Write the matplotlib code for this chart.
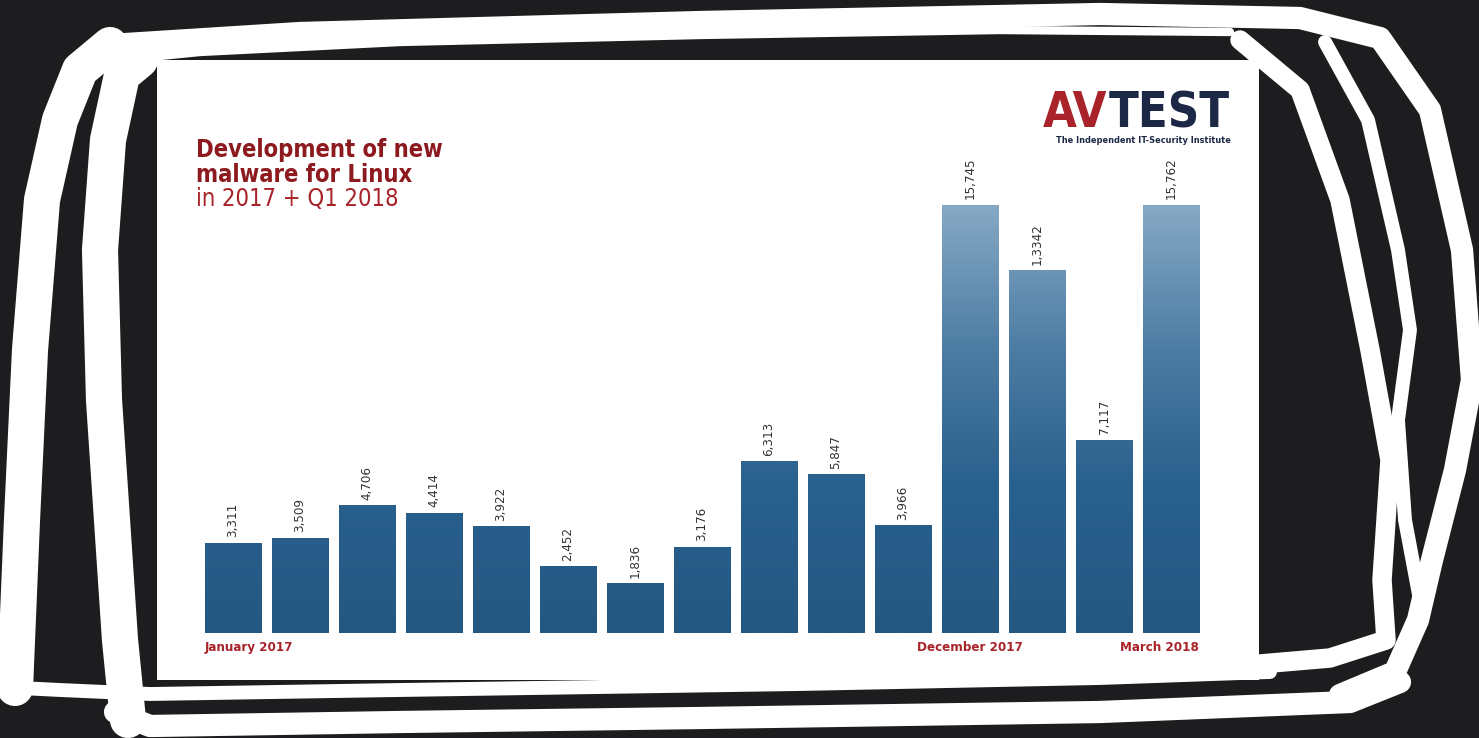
"""
    Development of new malware for Linux (AV-TEST), photo of a slide in a scribbled frame
"""
import matplotlib.pyplot as plt
import numpy as np
from matplotlib.colors import LinearSegmentedColormap
from matplotlib.patches import Rectangle

months = ["January 2017", "February 2017", "March 2017", "April 2017", "May 2017",
          "June 2017", "July 2017", "August 2017", "September 2017", "October 2017",
          "November 2017", "December 2017", "January 2018", "February 2018", "March 2018"]
values = [3311, 3509, 4706, 4414, 3922, 2452, 1836, 3176, 6313, 5847, 3966,
          15745, 13342, 7117, 15762]
value_labels = ["3,311", "3,509", "4,706", "4,414", "3,922", "2,452", "1,836", "3,176",
                "6,313", "5,847", "3,966", "15,745", "1,3342", "7,117", "15,762"]
shown_months = {0: "left", 11: "center", 14: "right"}

W, H, dpi = 1479, 738, 100
bg = "#1d1d1f"
red = "#a8232a"
dark_red = "#8c1a1f"
navy = "#1c2846"
cond = dict(family="DejaVu Sans", fontstretch="condensed")

fig = plt.figure(figsize=(W / dpi, H / dpi), dpi=dpi, facecolor=bg)

# overlay in pixel units for the card, frame and texts
deco = fig.add_axes([0, 0, 1, 1], zorder=0)
deco.set_xlim(0, W)
deco.set_ylim(H, 0)
deco.axis("off")
deco.set_facecolor(bg)
deco.add_patch(Rectangle((157, 60), 1102, 620, facecolor="white", edgecolor="none"))

# hand drawn frame strokes
strokes = [
    ([110, 300, 700, 1100, 1300, 1380, 1430, 1462, 1472, 1455, 1432, 1418, 1395, 1340],
     [45, 33, 22, 14, 18, 38, 110, 250, 380, 470, 560, 620, 672, 695], 16),
    ([1240, 1300, 1340, 1370, 1390, 1382, 1386, 1330, 1260],
     [40, 90, 200, 350, 460, 580, 640, 658, 664], 14),
    ([1325, 1368, 1398, 1410, 1398, 1405, 1420],
     [42, 120, 250, 330, 420, 520, 600], 10),
    ([1400, 1350, 1100, 700, 400, 150, 115],
     [682, 702, 712, 718, 722, 726, 712], 16),
    ([1270, 1100, 800, 400, 150, 60, 20],
     [672, 678, 684, 690, 694, 690, 688], 10),
    ([15, 22, 30, 42, 60, 80, 110],
     [688, 520, 350, 200, 120, 70, 45], 26),
    ([128, 120, 112, 104, 100, 108, 122, 140],
     [720, 640, 520, 400, 250, 140, 75, 60], 26),
    ([120, 200, 400, 700, 1000, 1230],
     [60, 52, 42, 35, 30, 32], 6),
]
for xs, ys, lw in strokes:
    deco.plot(xs, ys, color="white", lw=lw, solid_capstyle="round",
              solid_joinstyle="round")

# title
title_font = dict(family="DejaVu Sans", fontstretch="condensed", fontsize=17)
deco.text(196, 157, "Development of new", color=dark_red, fontweight="bold",
          va="baseline", **title_font)
deco.text(196, 182, "malware for Linux", color=dark_red, fontweight="bold",
          va="baseline", **title_font)
deco.text(196, 206, "in 2017 + Q1 2018", color=red, va="baseline", **title_font)

# logo
deco.text(1107, 127, "AV", color=red, fontsize=35, fontweight="bold",
          ha="right", va="baseline", **cond)
deco.text(1230, 127, "TEST", color=navy, fontsize=35, fontweight="bold",
          ha="right", va="baseline", **cond)
deco.text(1143, 143, "The Independent IT-Security Institute", color=navy, fontsize=6.6,
          fontweight="bold", ha="center", va="baseline", **cond)

# chart
ax = fig.add_axes([199.5 / W, (H - 633) / H, 1005 / W, 573 / H], zorder=1)
ax.patch.set_alpha(0)
ymax = 21080
cmap = LinearSegmentedColormap.from_list(
    "bars", [(0, "#235882"), (0.35, "#2a618d"), (0.65, "#4c7ca3"), (1, "#89abc6")])
grad = np.linspace(0, 1, 256).reshape(-1, 1)
x = np.arange(len(values))
bars = ax.bar(x, values, width=0.836, color="none", edgecolor="none")
for bar in bars:
    im = ax.imshow(grad, extent=[-0.5, len(values) - 0.5, 0, 16000], origin="lower",
                   aspect="auto", cmap=cmap, zorder=1)
    im.set_clip_path(bar)
for xi, v, lab in zip(x, values, value_labels):
    ax.annotate(lab, (xi, v), xytext=(0, 4), textcoords="offset points",
                rotation=90, ha="center", va="bottom", fontsize=9.5,
                color="#333333", **cond)
for i, align in shown_months.items():
    if align == "left":
        xpos = x[i] - 0.418
    elif align == "right":
        xpos = x[i] + 0.418
    else:
        xpos = x[i]
    ax.annotate(months[i], (xpos, 0), xytext=(0, -6), textcoords="offset points",
                ha=align, va="top", fontsize=9.5, fontweight="bold",
                color=red, **cond)
ax.set_xlim(-0.5, len(values) - 0.5)
ax.set_ylim(0, ymax)
ax.axis("off")

fig.savefig("out.png", dpi=dpi, facecolor=bg)
